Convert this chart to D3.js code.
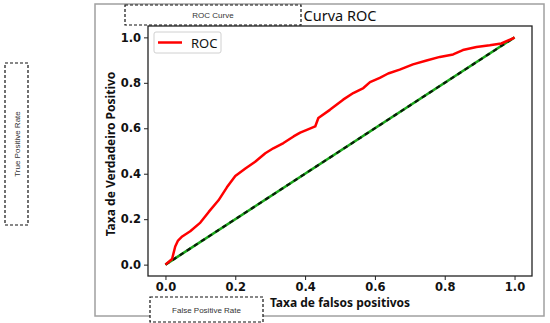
<!DOCTYPE html>
<html>
<head>
<meta charset="utf-8">
<script src="https://cdn.jsdelivr.net/npm/d3@7"></script>
<style>
  body { margin: 0; background: white; }
  svg { display: block; }
</style>
</head>
<body>
<div id="grafico"></div>
<script>
// valores
const fpr = [0, 0.019, 0.028, 0.036, 0.048, 0.071, 0.1, 0.124, 0.152, 0.176, 0.2, 0.229, 0.257, 0.286, 0.309, 0.338, 0.367, 0.386, 0.405, 0.429, 0.438, 0.471, 0.509, 0.538, 0.567, 0.586, 0.614, 0.638, 0.671, 0.709, 0.748, 0.786, 0.824, 0.852, 0.891, 0.929, 0.962, 0.995, 1];
const tpr = [0, 0.025, 0.08, 0.106, 0.124, 0.147, 0.185, 0.232, 0.283, 0.34, 0.39, 0.423, 0.453, 0.49, 0.512, 0.535, 0.564, 0.581, 0.593, 0.608, 0.645, 0.681, 0.726, 0.755, 0.777, 0.803, 0.822, 0.841, 0.858, 0.881, 0.898, 0.914, 0.925, 0.944, 0.958, 0.965, 0.973, 0.995, 1];
const diagonal = [0, 1];
const ticks = [0, 0.2, 0.4, 0.6, 0.8, 1.0];

const width = 550, height = 323;
const margin = { top: 26, right: 18, bottom: 47, left: 148 };

const svg = d3.select("#grafico").append("svg")
  .attr("width", width)
  .attr("height", height);

// moldura externa cinza
svg.append("rect")
  .attr("x", 95).attr("y", 4)
  .attr("width", 449).attr("height", 312)
  .attr("fill", "none")
  .attr("stroke", "#a0a0a0")
  .attr("stroke-width", 1.5);

const x = d3.scaleLinear().domain([-0.05, 1.05]).range([margin.left, width - margin.right]);
const y = d3.scaleLinear().domain([-0.05, 1.05]).range([height - margin.bottom, margin.top]);

const fonteTicks = "DejaVu Sans, sans-serif";

const eixoX = svg.append("g")
  .attr("transform", `translate(0, ${height - margin.bottom})`)
  .call(d3.axisBottom(x).tickValues(ticks).tickFormat(d3.format(".1f")).tickSize(4).tickPadding(3));
const eixoY = svg.append("g")
  .attr("transform", `translate(${margin.left}, 0)`)
  .call(d3.axisLeft(y).tickValues(ticks).tickFormat(d3.format(".1f")).tickSize(4).tickPadding(3));

[eixoX, eixoY].forEach(g => {
  g.select(".domain").remove();
  g.selectAll("line").attr("stroke", "#222");
  g.selectAll("text")
    .attr("fill", "#111")
    .style("font-family", fonteTicks)
    .style("font-size", "11.5px")
    .style("font-weight", "bold");
});

// caixa do gráfico
svg.append("rect")
  .attr("x", margin.left).attr("y", margin.top)
  .attr("width", width - margin.right - margin.left)
  .attr("height", height - margin.bottom - margin.top)
  .attr("fill", "none")
  .attr("stroke", "#222")
  .attr("stroke-width", 1.3);

// diagonal: verde com tracejado preto
const linhaDiag = d3.line().x(d => x(d)).y(d => y(d));
svg.append("path").datum(diagonal)
  .attr("d", linhaDiag)
  .attr("fill", "none").attr("stroke", "#1aa81a").attr("stroke-width", 2.6);
svg.append("path").datum(diagonal)
  .attr("d", linhaDiag)
  .attr("fill", "none").attr("stroke", "#0a1a0a").attr("stroke-width", 2.2)
  .attr("stroke-dasharray", "4.5,4");

// curva ROC
const pontos = fpr.map((f, i) => [f, tpr[i]]);
svg.append("path").datum(pontos)
  .attr("d", d3.line().x(d => x(d[0])).y(d => y(d[1])))
  .attr("fill", "none")
  .attr("stroke", "red")
  .attr("stroke-width", 2.5)
  .attr("stroke-linejoin", "round");

// legenda
const legenda = svg.append("g").attr("transform", `translate(${margin.left + 6}, ${margin.top + 6})`);
legenda.append("rect")
  .attr("width", 67).attr("height", 21).attr("rx", 2)
  .attr("fill", "white").attr("stroke", "#d0d0d0");
legenda.append("line")
  .attr("x1", 4).attr("x2", 28).attr("y1", 10.5).attr("y2", 10.5)
  .attr("stroke", "red").attr("stroke-width", 2.5);
legenda.append("text")
  .attr("x", 37).attr("y", 15.5)
  .style("font-family", "Noto Sans, sans-serif").style("font-size", "13px")
  .attr("fill", "#111")
  .text("ROC");

const centroX = (margin.left + width - margin.right) / 2;

// título e rótulos
svg.append("text")
  .attr("x", centroX).attr("y", 21)
  .attr("text-anchor", "middle")
  .style("font-family", "Noto Sans, sans-serif").style("font-size", "14.5px")
  .attr("fill", "#111")
  .text("Curva ROC");

svg.append("text")
  .attr("x", centroX).attr("y", 307)
  .attr("text-anchor", "middle")
  .style("font-family", "Noto Sans, sans-serif").style("font-size", "12px").style("font-weight", "bold")
  .attr("fill", "#111")
  .text("Taxa de falsos positivos");

svg.append("text")
  .attr("transform", `translate(115, ${y(0.5) + 3}) rotate(-90)`)
  .attr("text-anchor", "middle")
  .style("font-family", "Noto Sans, sans-serif").style("font-size", "12px").style("font-weight", "bold")
  .attr("fill", "#111")
  .text("Taxa de Verdadeiro Positivo");

// caixas tracejadas com rótulos em inglês
function caixa(x0, y0, w, h, texto, girar) {
  svg.append("rect")
    .attr("x", x0).attr("y", y0).attr("width", w).attr("height", h)
    .attr("fill", "white")
    .attr("stroke", "#111").attr("stroke-width", 1.2)
    .attr("stroke-dasharray", "3,2");
  const cx = x0 + w / 2, cy = y0 + h / 2;
  svg.append("text")
    .attr("transform", girar ? `translate(${cx + 3}, ${cy}) rotate(-90)` : `translate(${cx}, ${cy + 3})`)
    .attr("text-anchor", "middle")
    .style("font-family", "Liberation Sans, Arial, sans-serif").style("font-size", "8px")
    .attr("fill", "#333")
    .text(texto);
}
caixa(125, 5, 176, 20, "ROC Curve", false);
caixa(5, 63, 23, 162, "True Positive Rate", true);
caixa(150, 297, 113, 25, "False Positive Rate", false);
</script>
</body>
</html>
